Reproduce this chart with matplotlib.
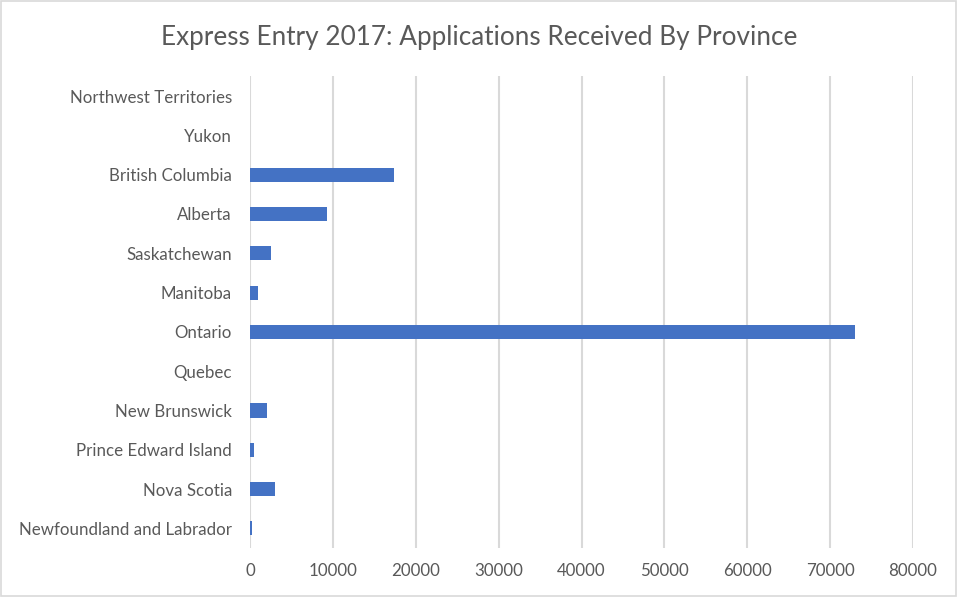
import matplotlib.pyplot as plt
from matplotlib.patches import Rectangle

provinces = ['Newfoundland and Labrador', 'Nova Scotia', 'Prince Edward Island',
             'New Brunswick', 'Quebec', 'Ontario', 'Manitoba', 'Saskatchewan',
             'Alberta', 'British Columbia', 'Yukon', 'Northwest Territories']
applications = [240, 3020, 480, 2050, 0, 73020, 970, 2530, 9290, 17400, 0, 0]
x_ticks = [0, 10000, 20000, 30000, 40000, 50000, 60000, 70000, 80000]

plt.rcParams['font.family'] = ['Lato', 'DejaVu Sans']

fig = plt.figure(figsize=(9.58, 5.97), dpi=100)
ax = fig.add_axes([0.261, 0.082, 0.692, 0.790])

ax.barh(range(len(provinces)), applications, height=0.36, color='#4472C4', zorder=3)

ax.set_xlim(0, 80000)
ax.set_ylim(-0.5, len(provinces) - 0.5)
ax.set_xticks(x_ticks)
ax.set_xticklabels([str(t) for t in x_ticks])
ax.set_yticks(range(len(provinces)))
ax.set_yticklabels(provinces)
ax.tick_params(axis='both', length=0, labelsize=12.2, colors='#595959')
ax.tick_params(axis='x', pad=11)
ax.tick_params(axis='y', pad=13)

ax.grid(axis='x', color='#D9D9D9', linewidth=1.5, zorder=0)
for s in ax.spines.values():
    s.set_visible(False)

fig.text(0.5, 0.938, 'Express Entry 2017: Applications Received By Province',
         ha='center', va='center', fontsize=18.8, color='#595959')

# chart area border
fig.patches.append(Rectangle((0.001, 0.001), 0.997, 0.997, transform=fig.transFigure,
                             fill=False, edgecolor='#D9D9D9', linewidth=1.2))

fig.savefig('out.png', dpi=100)
